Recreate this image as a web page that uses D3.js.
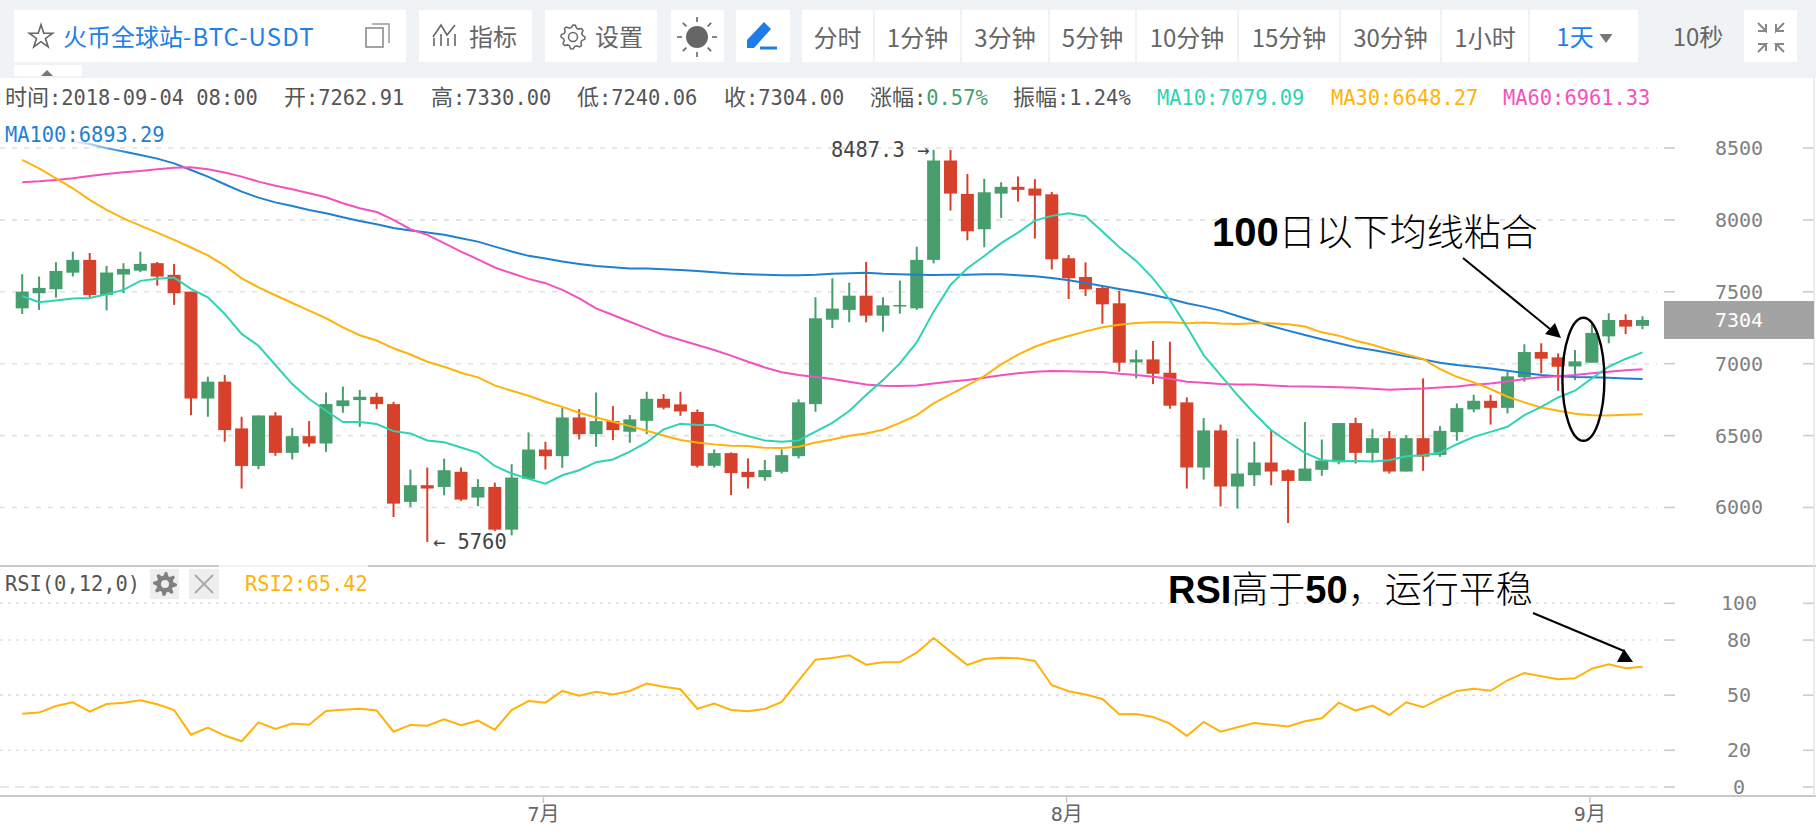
<!DOCTYPE html>
<html><head><meta charset="utf-8">
<script src="https://cdn.jsdelivr.net/npm/d3@7/dist/d3.min.js"></script>
<style>
html,body{margin:0;padding:0;background:#fff;overflow:hidden}
svg{display:block}
.mono{font-family:"DejaVu Sans Mono","Noto Sans CJK SC",monospace;font-size:20.4px}
.ui{font-family:"Noto Sans CJK SC","Noto Sans",sans-serif;font-size:24px}
.note{font-family:"Noto Sans CJK SC",serif;font-size:37px;font-weight:300;fill:#000}
.note .b{font-family:"Liberation Sans";font-weight:700}
</style></head><body><div id="chart"></div>
<script>
const dates=["05-31","06-01","06-02","06-03","06-04","06-05","06-06","06-07","06-08","06-09","06-10","06-11","06-12","06-13","06-14","06-15","06-16","06-17","06-18","06-19","06-20","06-21","06-22","06-23","06-24","06-25","06-26","06-27","06-28","06-29","06-30","07-01","07-02","07-03","07-04","07-05","07-06","07-07","07-08","07-09","07-10","07-11","07-12","07-13","07-14","07-15","07-16","07-17","07-18","07-19","07-20","07-21","07-22","07-23","07-24","07-25","07-26","07-27","07-28","07-29","07-30","07-31","08-01","08-02","08-03","08-04","08-05","08-06","08-07","08-08","08-09","08-10","08-11","08-12","08-13","08-14","08-15","08-16","08-17","08-18","08-19","08-20","08-21","08-22","08-23","08-24","08-25","08-26","08-27","08-28","08-29","08-30","08-31","09-01","09-02","09-03","09-04"];
const opens=[7385,7490,7518,7633,7722,7478,7620,7647,7699,7618,7501,6758,6875,6550,6289,6640,6380,6496,6445,6705,6747,6770,6719,6039,6155,6143,6248,6069,6143,5846,6199,6403,6357,6626,6510,6601,6527,6603,6756,6717,6664,6290,6378,6248,6211,6248,6357,6719,7306,7374,7473,7334,7401,7385,7722,8413,8181,7935,8183,8230,8218,8178,7733,7603,7527,7420,7009,7030,6937,6731,6278,6536,6146,6224,6313,6259,6185,6262,6315,6587,6380,6482,6250,6482,6366,6524,6682,6742,6693,6905,7081,7044,6981,7007,7190,7304,7262.91];
const highs=[7622,7606,7706,7779,7770,7680,7699,7779,7707,7694,7501,6909,6921,6631,6640,6663,6554,6601,6800,6840,6817,6798,6735,6264,6278,6340,6278,6197,6173,6301,6522,6457,6696,6684,6800,6705,6643,6805,6789,6805,6682,6404,6383,6341,6330,6404,6752,7462,7594,7564,7708,7462,7578,7814,8487.3,8487,8320,8285,8262,8302,8283,8195,7756,7705,7536,7508,7095,7158,7153,6765,6622,6577,6480,6457,6538,6266,6594,6473,6587,6624,6547,6531,6503,6898,6566,6724,6784,6784,6944,7135,7142,7072,7095,7281,7351,7344,7330];
const lows=[7346,7374,7460,7606,7462,7371,7490,7636,7543,7409,6642,6631,6457,6132,6266,6359,6334,6422,6387,6659,6561,6684,5934,6004,5760,6085,6046,6009,5837,5806,6199,6264,6276,6473,6422,6469,6450,6510,6682,6638,6278,6278,6086,6132,6186,6237,6341,6666,7248,7288,7288,7223,7348,7374,7698,8065,7858,7810,8014,8127,7870,7656,7450,7471,7278,6944,6898,6858,6687,6132,6194,6008,5992,6150,6155,5892,6185,6220,6301,6306,6313,6236,6250,6255,6352,6464,6663,6577,6654,6875,6933,6812,6886,7007,7142,7207,7240.06];
const closes=[7501,7527,7645,7722,7478,7634,7659,7694,7606,7490,6758,6875,6538,6289,6640,6380,6496,6445,6719,6745,6770,6719,6027,6155,6132,6259,6055,6143,5846,6208,6403,6357,6626,6510,6601,6538,6613,6756,6694,6668,6290,6378,6239,6211,6260,6364,6731,7316,7383,7473,7334,7406,7408,7722,8413,8183,7921,8192,8230,8209,8169,7726,7594,7517,7413,7007,7030,6930,6708,6278,6536,6146,6236,6313,6250,6185,6271,6327,6587,6380,6482,6250,6482,6354,6533,6691,6742,6693,6912,7081,7035,6979,7016,7214,7304,7258,7304];
const ma10=[7471,7427,7439,7453,7457,7483,7513,7576,7590,7599,7520,7462,7346,7207,7125,6991,6858,6754,6673,6594,6594,6580,6531,6515,6466,6454,6417,6380,6289,6236,6199,6166,6224,6259,6315,6334,6388,6452,6543,6582,6573,6573,6531,6497,6466,6457,6466,6527,6589,6671,6782,6886,7002,7148,7362,7548,7664,7749,7838,7912,7995,8028,8046,8025,7919,7810,7715,7594,7443,7258,7060,6921,6782,6654,6538,6457,6380,6329,6322,6324,6320,6329,6357,6364,6380,6440,6491,6526,6561,6642,6700,6765,6812,6898,6979,7033,7079.09];
const ma30=[8417,8359,8289,8220,8139,8069,8011,7960,7912,7861,7808,7754,7682,7594,7531,7476,7422,7369,7316,7253,7198,7161,7107,7064,7014,6979,6937,6905,6849,6812,6777,6735,6700,6659,6626,6596,6566,6534,6501,6469,6452,6439,6429,6427,6415,6413,6422,6452,6473,6499,6515,6541,6589,6643,6724,6787,6849,6914,6995,7063,7118,7160,7193,7225,7253,7271,7283,7288,7288,7281,7286,7279,7276,7281,7281,7274,7258,7218,7195,7160,7132,7095,7065,7033,6963,6909,6870,6824,6770,6731,6696,6673,6652,6642,6640,6645,6648.27];
const ma60=[8261,8268,8278,8289,8305,8319,8331,8340,8352,8363,8366,8352,8329,8301,8266,8238,8213,8185,8157,8116,8081,8055,8000,7935,7896,7838,7780,7726,7669,7629,7590,7560,7513,7455,7385,7339,7292,7246,7200,7165,7130,7095,7056,7014,6974,6940,6921,6907,6893,6875,6856,6847,6845,6849,6863,6877,6886,6903,6919,6933,6944,6949,6947,6944,6942,6930,6921,6910,6896,6875,6868,6858,6856,6856,6849,6844,6842,6840,6837,6833,6826,6819,6824,6828,6835,6842,6854,6863,6877,6893,6905,6912,6921,6933,6944,6955,6961.33];
const ma100=[null,null,null,8544,8528,8498,8475,8451,8426,8393,8347,8301,8248,8197,8155,8122,8097,8069,8046,8018,7993,7970,7944,7926,7912,7896,7872,7849,7814,7780,7750,7731,7710,7694,7680,7671,7662,7662,7657,7652,7645,7636,7627,7622,7618,7615,7615,7618,7625,7629,7633,7626,7622,7619,7617,7619,7619,7622,7622,7615,7608,7596,7580,7561,7541,7520,7501,7478,7452,7420,7397,7369,7332,7297,7262,7230,7200,7170,7142,7114,7095,7074,7051,7030,7007,6991,6979,6967,6951,6935,6921,6912,6907,6905,6902,6897,6893.29];
const rsi2=[39.9,40.5,44.1,46.1,41.0,45.2,45.9,47.2,45.0,41.9,28.5,32.3,28.0,24.9,35.2,31.6,34.5,33.9,41.4,42.1,42.6,41.7,30.1,33.8,33.4,36.8,33.6,36.1,31.2,41.9,46.8,45.9,52.3,49.7,51.9,50.3,52.3,56.3,54.6,53.2,42.6,45.4,41.9,41.2,42.5,46.3,57.9,69.3,70.2,71.7,66.6,67.9,67.9,73.1,81.1,73.7,66.4,69.7,70.4,70.1,68.6,55.4,52.1,50.3,47.9,39.6,39.7,38.1,34.5,27.8,35.4,30.1,32.5,34.8,33.9,33.0,35.8,37.4,45.9,41.6,44.3,39.2,46.1,43.4,48.1,52.3,53.5,52.4,58.1,62.1,60.3,58.6,59.2,64.4,66.8,64.6,65.42];
const priceTicks=[6000,6500,7000,7500,8000,8500];
const rsiTicks=[0,20,50,80,100];
const monthTicks=["07-01","08-01","09-01"];
const monthLabels=["7月","8月","9月"];
const toolButtons=["分时","1分钟","3分钟","5分钟","10分钟","15分钟","30分钟","1小时"];
const toolEdges=[802,875,962,1050,1137,1239,1341,1442,1530];
const infoLabels=["时间:2018-09-04 08:00","开:7262.91","高:7330.00","低:7240.06","收:7304.00"];
const infoLefts=[5,284,431,577,724];

const W=1816,H=834,GREEN="#459e6c",RED="#d7402a",C10="#2fd3b2",C30="#ffb30a",C60="#f252c0",C100="#1f80d3",TXT="#555",AX="#808080";
const svg=d3.select("#chart").append("svg").attr("width",W).attr("height",H).attr("viewBox",`0 0 ${W} ${H}`);
const x=d3.scaleBand().domain(dates).range([13.76,1650.94]).paddingInner(0.23).paddingOuter(0.115);
const cx=i=>x(dates[i])+x.bandwidth()/2;
const y=d3.scaleLinear().domain([6000,8500]).range([507.5,148]);
const yr=d3.scaleLinear().domain([0,100]).range([787,603.3]);

// top toolbar
svg.append("rect").attr("width",W).attr("height",78).attr("fill","#eff3f6");
const box=(a,b,t=10,h=52)=>svg.append("rect").attr("x",a).attr("y",t).attr("width",b-a).attr("height",h).attr("fill","#fff");
box(14,406);box(14,82,65,11);box(419,532);box(545,657);box(671,724);box(736,790);box(1744,1797);
toolEdges.forEach((e,i)=>{const r=i<toolEdges.length-1?toolEdges[i+1]-2:1638;box(e,r);});
const ui=(t,px,py,c="#666",a="middle")=>svg.append("text").attr("class","ui").attr("x",px).attr("y",py).attr("dy","0.36em").attr("text-anchor",a).attr("fill",c).text(t);
const title=ui("火币全球站",63,37,"#1e80e8","start");
title.append("tspan").attr("letter-spacing",1.1).text("-BTC-USDT");
ui("指标",493,37);ui("设置",619,37);
toolButtons.forEach((t,i)=>ui(t,(toolEdges[i]+toolEdges[i+1]-2)/2,38));
ui("1天",1575,37,"#1e80e8");ui("10秒",1698,37,"#666");
// icons
const gearPath=(cxp,cyp,ro,ri,teeth)=>{const a=d3.range(teeth*4).map(k=>{const t=k/(teeth*4)*2*Math.PI,r=(k%4<2)?ro:ri;return [cxp+r*Math.cos(t),cyp+r*Math.sin(t)];});return d3.line().curve(d3.curveLinearClosed)(a);};
svg.append("path").attr("d",d3.symbol(d3.symbolStar,170)).attr("transform","translate(41,37)").attr("fill","none").attr("stroke","#666").attr("stroke-width",1.6);
svg.append("rect").attr("x",366).attr("y",28).attr("width",17).attr("height",19).attr("fill","none").attr("stroke","#999").attr("stroke-width",1.8);
svg.append("path").attr("d","M372 24H389V43").attr("fill","none").attr("stroke","#999").attr("stroke-width",1.5);
svg.append("path").attr("d","M47 70l-6 6h12z").attr("fill","#777");
svg.append("path").attr("d","M434 46v-8M441 46v-12M448 46v-8M455 46v-12M433 37l8-12 6 10 8-10").attr("fill","none").attr("stroke","#666").attr("stroke-width",1.6);
svg.append("path").attr("d",gearPath(573,37,12,9.5,8)).attr("fill","none").attr("stroke","#666").attr("stroke-width",1.5);
svg.append("circle").attr("cx",573).attr("cy",37).attr("r",4.5).attr("fill","none").attr("stroke","#666").attr("stroke-width",1.5);
svg.append("circle").attr("cx",697).attr("cy",37).attr("r",11).attr("fill","#666");
d3.range(8).forEach(k=>{const a=k*Math.PI/4;svg.append("line").attr("x1",697+15*Math.cos(a)).attr("y1",37+15*Math.sin(a)).attr("x2",697+20*Math.cos(a)).attr("y2",37+20*Math.sin(a)).attr("stroke","#666").attr("stroke-width",1.6);});
svg.append("path").attr("d","M747 48v-8l17-18 7 7-17 19zM760 46.500h17v3h-17z").attr("fill","#1e7ce8");
svg.append("path").attr("d","M1599.500 34h13l-6.500 9z").attr("fill","#777");
svg.append("path").attr("d","M1758 23l8 8v-7M1766 31h-8M1784 23l-8 8v-7M1776 31h8M1758 52l8-8h-8M1766 44v7M1784 52l-8-8h8M1776 44v7").attr("fill","none").attr("stroke","#888").attr("stroke-width",2);

// grids
svg.append("g").selectAll("line").data(priceTicks).join("line").attr("x1",0).attr("x2",1657).attr("y1",d=>y(d)).attr("y2",d=>y(d)).attr("stroke","#e0e0e0").attr("stroke-width",1.6).attr("stroke-dasharray","5 7");
svg.append("g").selectAll("line").data(rsiTicks).join("line").attr("x1",0).attr("x2",1657).attr("y1",d=>yr(d)).attr("y2",d=>yr(d)).attr("stroke","#e0e0e0").attr("stroke-width",1.6).attr("stroke-dasharray",d=>d===0?"9 6":"3 5");
[[priceTicks,y],[rsiTicks,yr]].forEach(([t,s])=>{[[1664,1675],[1803,1814]].forEach(([a,b])=>{
  svg.append("g").selectAll("line").data(t).join("line").attr("x1",a).attr("x2",b).attr("y1",d=>s(d)).attr("y2",d=>s(d)).attr("stroke","#ccc").attr("stroke-width",1.6);
});});

// candles
const gc=svg.append("g");
const idx=d3.range(dates.length);
gc.selectAll("line").data(idx).join("line").attr("x1",cx).attr("x2",cx).attr("y1",i=>y(highs[i])).attr("y2",i=>y(lows[i])).attr("stroke",i=>closes[i]>=opens[i]?GREEN:RED).attr("stroke-width",2);
gc.selectAll("rect").data(idx).join("rect").attr("x",i=>x(dates[i])).attr("width",x.bandwidth()).attr("y",i=>y(Math.max(opens[i],closes[i]))).attr("height",i=>Math.max(1.5,Math.abs(y(opens[i])-y(closes[i])))).attr("fill",i=>closes[i]>=opens[i]?GREEN:RED);

// MA lines
const defs=svg.append("defs");
const g=defs.append("linearGradient").attr("id","fade").attr("gradientUnits","userSpaceOnUse").attr("x1",72).attr("x2",128).attr("y1",0).attr("y2",0);
g.append("stop").attr("offset",0).attr("stop-color",C100).attr("stop-opacity",0.05);
g.append("stop").attr("offset",1).attr("stop-color",C100).attr("stop-opacity",1);
const line=d3.line().defined(d=>d[1]!==null).x(d=>cx(d[0])).y(d=>y(d[1]));
[[ma100,"url(#fade)"],[ma60,C60],[ma30,C30],[ma10,C10]].forEach(([s,c])=>{
  svg.append("path").attr("d",line(s.map((v,i)=>[i,v]))).attr("fill","none").attr("stroke",c).attr("stroke-width",2);
});
const rsiLine=d3.line().x((d,i)=>cx(i)).y(d=>yr(d));
svg.append("path").attr("d",rsiLine(rsi2)).attr("fill","none").attr("stroke",C30).attr("stroke-width",2);

// panel lines
svg.append("line").attr("x1",0).attr("x2",W).attr("y1",566).attr("y2",566).attr("stroke","#c8c8c8").attr("stroke-width",2);
svg.append("line").attr("x1",219).attr("x2",368).attr("y1",566).attr("y2",566).attr("stroke","#f3f3f3").attr("stroke-width",2);
svg.append("line").attr("x1",0).attr("x2",W).attr("y1",796).attr("y2",796).attr("stroke","#c8c8c8").attr("stroke-width",2);
svg.append("line").attr("x1",1814).attr("x2",1814).attr("y1",78).attr("y2",796).attr("stroke","#e6e6e6").attr("stroke-width",1.5);

// axes
const axisStyle=(sel)=>{sel.select(".domain").remove();sel.selectAll("text").attr("class","mono").attr("fill",AX).attr("text-anchor","middle").attr("x",0).style("font-size","20px");sel.selectAll(".tick line").remove();};
svg.append("g").attr("transform","translate(1739,0)").call(d3.axisRight(y).tickValues(priceTicks).tickFormat(d3.format("d"))).call(axisStyle);
svg.append("g").attr("transform","translate(1739,0)").call(d3.axisRight(yr).tickValues(rsiTicks).tickFormat(d3.format("d"))).call(axisStyle);
const xa=svg.append("g").attr("transform","translate(-2,796)").call(d3.axisBottom(x).tickValues(monthTicks).tickFormat((d,i)=>monthLabels[i]).tickSize(7).tickPadding(4));
xa.select(".domain").remove();xa.selectAll(".tick line").attr("stroke","#c8c8c8").attr("stroke-width",1.5);
xa.selectAll("text").attr("class","mono").attr("fill","#666").style("font-size","20px").style("font-family",'"DejaVu Sans Mono","Noto Sans CJK SC"');

// current price tag
svg.append("rect").attr("x",1664).attr("y",y(7304)-19).attr("width",150).attr("height",38).attr("fill","#a3a3a3");
svg.append("text").attr("class","mono").attr("x",1739).attr("y",y(closes[96])).attr("dy","0.36em").attr("text-anchor","middle").attr("fill","#fff").style("font-size","20px").text("7304");

// legends
const mono=(parts,px,py)=>{const t=svg.append("text").attr("class","mono").attr("x",px).attr("y",py).attr("dy","0.36em");
  parts.forEach(([s,c])=>s.split(/([\u4e00-\u9fff]+)/).filter(p=>p).forEach(p=>{
    const ts=t.append("tspan").attr("fill",c).text(p);
    if(/[\u4e00-\u9fff]/.test(p)) ts.style("font-size","22px");
  }));return t;};
infoLabels.forEach((s,i)=>mono([[s,TXT]],infoLefts[i],98));
mono([["涨幅:",TXT],["0.57%",GREEN]],870,98);
mono([["振幅:1.24%",TXT]],1013,98);
mono([["MA10:7079.09",C10]],1157,98);
mono([["MA30:6648.27",C30]],1331,98);
mono([["MA60:6961.33",C60]],1503,98);
mono([["MA100:6893.29",C100]],5,135);
mono([["RSI(0,12,0)",TXT]],5,584);
mono([["RSI2:65.42",C30]],245,584);
svg.append("rect").attr("x",150).attr("y",569).attr("width",29).attr("height",30).attr("fill","#eeeeee");
svg.append("rect").attr("x",189).attr("y",569).attr("width",30).attr("height",30).attr("fill","#eeeeee");
svg.append("path").attr("d",gearPath(165,584,12,8.5,8)).attr("fill","#808080");
svg.append("circle").attr("cx",165).attr("cy",584).attr("r",4).attr("fill","#eeeeee");
svg.append("path").attr("d","M195 575l18 18M213 575l-18 18").attr("stroke","#aaa").attr("stroke-width",2);
mono([["8487.3 →","#444"]],831,150);
mono([["← 5760","#444"]],433,541.5);

// annotations
const n1=svg.append("text").attr("class","note").attr("x",1212).attr("y",233).attr("dy","0.36em");
n1.append("tspan").attr("class","b").style("font-size","40px").text("100");n1.append("tspan").text("日以下均线粘合");
const n2=svg.append("text").attr("class","note").attr("x",1168).attr("y",590).attr("dy","0.36em");
n2.append("tspan").attr("class","b").style("font-size","38px").text("RSI");n2.append("tspan").text("高于");n2.append("tspan").attr("class","b").style("font-size","38px").text("50");n2.append("tspan").text("，运行平稳");
svg.append("path").attr("d","M1463 258L1550 329").attr("stroke","#000").attr("stroke-width",2);
svg.append("path").attr("d","M1545 334L1555 323L1561 338Z").attr("fill","#000");
svg.append("path").attr("d","M1533 613L1624 651").attr("stroke","#000").attr("stroke-width",2);
svg.append("path").attr("d","M1617 662L1633 662L1624 649Z").attr("fill","#000");
svg.append("ellipse").attr("cx",1583.4).attr("cy",379.3).attr("rx",21).attr("ry",61.5).attr("fill","none").attr("stroke","#000").attr("stroke-width",2.4);
</script></body></html>
